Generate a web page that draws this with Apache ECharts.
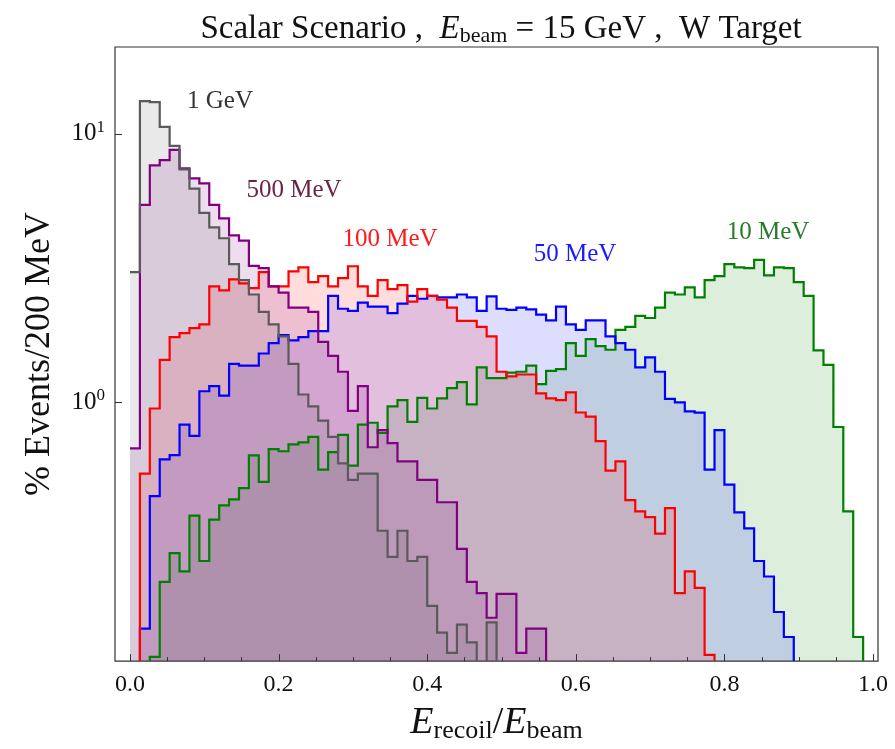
<!DOCTYPE html>
<html>
<head>
<meta charset="utf-8">
<title>Scalar Scenario, E_beam = 15 GeV, W Target</title>
<script src="https://cdn.jsdelivr.net/npm/echarts@6/dist/echarts.min.js"></script>
<style>
    html, body { margin: 0; padding: 0; background: #fff; }
    #chart { width: 895px; height: 749px; }
</style>
</head>
<body>
<div id="chart"></div>
<script>
// 200 MeV bins over a 15 GeV beam -> 75 bins of E_recoil/E_beam in [0, 1]
var binWidth = 0.2 / 15;

// % events per bin (0 = below the visible range)
var gev1 = [3.05, 13.2, 13.1, 10.6, 9.0, 7.36, 6.24, 5.07, 4.48, 4.08,
    3.27, 2.85, 2.52, 2.17, 1.95, 1.76, 1.39, 1.07, 0.966, 0.855,
    0.744, 0.593, 0.515, 0.543, 0.543, 0.333, 0.266, 0.333, 0.257, 0.266,
    0.175, 0.139, 0.117, 0.149, 0.128, 0, 0.152, 0, 0, 0,
    0, 0, 0, 0, 0, 0, 0, 0, 0, 0,
    0, 0, 0, 0, 0, 0, 0, 0, 0, 0,
    0, 0, 0, 0, 0, 0, 0, 0, 0, 0,
    0, 0, 0, 0, 0];
var mev500 = [0.674, 5.43, 7.62, 7.97, 8.7, 7.43, 6.81, 6.53, 5.43, 4.84,
    4.18, 4.0, 3.22, 3.16, 2.70, 2.56, 2.25, 2.25, 2.17, 1.68,
    1.49, 1.30, 0.93, 1.15, 0.681, 0.789, 0.705, 0.603, 0.603, 0.515,
    0.515, 0.425, 0.425, 0.285, 0.215, 0.195, 0.158, 0.194, 0.194, 0.117,
    0.144, 0.144, 0, 0, 0, 0, 0, 0, 0, 0,
    0, 0, 0, 0, 0, 0, 0, 0, 0, 0,
    0, 0, 0, 0, 0, 0, 0, 0, 0, 0,
    0, 0, 0, 0, 0];
var mev100 = [0, 0.543, 0.949, 1.44, 1.75, 1.81, 1.89, 1.95, 2.70, 2.61,
    2.87, 2.77, 2.66, 3.05, 2.70, 2.70, 3.07, 3.18, 2.80, 2.95,
    2.70, 2.90, 3.21, 2.70, 2.49, 2.85, 2.64, 2.73, 2.37, 2.64,
    2.49, 2.41, 2.25, 2.01, 2.01, 1.91, 1.76, 1.30, 1.25, 1.27,
    1.27, 1.08, 1.035, 1.02, 1.09, 0.917, 0.885, 0.718, 0.557, 0.603,
    0.433, 0.393, 0.374, 0.325, 0.404, 0.195, 0.235, 0.204, 0.115, 0,
    0, 0, 0, 0, 0, 0, 0, 0, 0, 0,
    0, 0, 0, 0, 0];
var mev50 = [0, 0.144, 0.448, 0.614, 0.636, 0.826, 0.751, 1.10, 1.15, 1.06,
    1.39, 1.37, 1.37, 1.52, 1.66, 1.78, 1.70, 1.75, 1.84, 1.84,
    2.49, 2.23, 2.19, 2.35, 2.27, 2.27, 2.15, 2.33, 2.49, 2.43,
    2.49, 2.46, 2.46, 2.52, 2.46, 2.19, 2.48, 2.23, 2.21, 2.25,
    2.22, 2.12, 2.02, 2.27, 1.95, 1.86, 2.02, 2.02, 1.76, 1.66,
    1.57, 1.35, 1.47, 1.30, 1.03, 1.0, 0.926, 0.916, 0.562, 0.789,
    0.494, 0.39, 0.34, 0.257, 0.225, 0.166, 0.134, 0, 0, 0,
    0, 0, 0, 0, 0];
var mev10 = [0, 0, 0.113, 0.215, 0.275, 0.235, 0.379, 0.257, 0.366, 0.414,
    0.436, 0.48, 0.635, 0.506, 0.67, 0.658, 0.698, 0.71, 0.744, 0.562,
    0.653, 0.757, 0.582, 0.826, 0.84, 0.77, 0.966, 1.02, 0.846, 1.04,
    0.949, 1.035, 1.13, 1.19, 0.983, 1.35, 1.23, 1.23, 1.29, 1.30,
    1.37, 1.17, 1.31, 1.33, 1.66, 1.49, 1.72, 1.62, 1.57, 1.86,
    1.91, 2.10, 2.06, 2.25, 2.56, 2.52, 2.68, 2.46, 2.85, 2.95,
    3.27, 3.18, 3.16, 3.39, 2.97, 3.18, 3.16, 2.80, 2.49, 1.56,
    1.38, 0.81, 0.393, 0.134, 0];

var seriesNames = ['10 MeV', '50 MeV', '100 MeV', '500 MeV', '1 GeV'];
var seriesValues = [mev10, mev50, mev100, mev500, gev1];
var lineColors = ['#008000', '#0000ff', '#ff0000', '#800080', '#5a5a5a'];
var fillColors = ['rgba(0,128,0,0.135)', 'rgba(0,0,255,0.135)', 'rgba(255,0,0,0.135)',
    'rgba(128,0,128,0.135)', 'rgba(90,90,90,0.135)'];

// frame ticks
var xMajorTicks = [0, 0.2, 0.4, 0.6, 0.8, 1.0];
var xMinorTicks = [0.05, 0.1, 0.15, 0.25, 0.3, 0.35, 0.45, 0.5, 0.55, 0.65, 0.7, 0.75, 0.85, 0.9, 0.95];
var yMajorTicks = [1, 10];

var xMin = -0.0202, xMax = 1.0067;
var yMin = 0.109, yMax = 21.0;
var serif = '"Liberation Serif", "DejaVu Serif", serif';

// step outline of a histogram, in pixels
function stepPoints(api, values, closed) {
    var floor = yMin / 3;   // below the frame, clipped away
    var pts = [];
    if (closed) pts.push(api.coord([0, floor]));
    for (var i = 0; i < values.length; i++) {
        var v = values[i] > 0 ? values[i] : floor;
        pts.push(api.coord([i * binWidth, v]));
        pts.push(api.coord([(i + 1) * binWidth, v]));
    }
    if (closed) pts.push(api.coord([values.length * binWidth, floor]));
    return pts;
}

function fillSeries(idx) {
    return {
        name: seriesNames[idx],
        type: 'custom',
        clip: true,
        silent: true,
        z: 2,
        data: [[0.5, 1]],
        encode: { x: 0, y: 1 },
        renderItem: function (params, api) {
            return {
                type: 'polygon',
                shape: { points: stepPoints(api, seriesValues[idx], true) },
                style: { fill: fillColors[idx], stroke: null }
            };
        }
    };
}

function lineSeries(idx) {
    return {
        name: seriesNames[idx],
        type: 'custom',
        clip: true,
        silent: true,
        z: 3,
        data: [[0.5, 1]],
        encode: { x: 0, y: 1 },
        renderItem: function (params, api) {
            return {
                type: 'polyline',
                shape: { points: stepPoints(api, seriesValues[idx], false) },
                style: { fill: null, stroke: lineColors[idx], lineWidth: 2.2, lineJoin: 'miter' }
            };
        }
    };
}

// inward ticks on the bottom (x) or left (y) frame edge
function tickSeries(values, onX, len) {
    return {
        type: 'custom',
        silent: true,
        clip: false,
        z: 4,
        data: values.map(function (t) { return onX ? [t, yMin] : [xMin, t]; }),
        encode: { x: 0, y: 1 },
        renderItem: function (params, api) {
            var p = api.coord([api.value(0), api.value(1)]);
            var shape = onX
                ? { x1: Math.round(p[0]) + 0.5, y1: p[1], x2: Math.round(p[0]) + 0.5, y2: p[1] - len }
                : { x1: p[0], y1: Math.round(p[1]) + 0.5, x2: p[0] + len, y2: Math.round(p[1]) + 0.5 };
            return { type: 'line', shape: shape, style: { stroke: '#333', lineWidth: 1 } };
        }
    };
}

var series = [];
seriesValues.forEach(function (v, i) { series.push(fillSeries(i)); });
seriesValues.forEach(function (v, i) { series.push(lineSeries(i)); });
series.push(tickSeries(xMajorTicks, true, 7));
series.push(tickSeries(xMinorTicks, true, 4));
series.push(tickSeries(yMajorTicks, false, 7));

var chart = echarts.init(document.getElementById('chart'), null, { renderer: 'canvas' });

var option = {
    backgroundColor: '#fff',
    animation: false,
    title: {
        text: 'Scalar Scenario ,  {i|E}{s|beam} = 15 GeV ,  W Target',
        left: 496,
        textAlign: 'center',
        top: 6,
        textStyle: {
            fontFamily: serif, fontSize: 33, fontWeight: 'normal', color: '#111', lineHeight: 36,
            rich: {
                i: { fontFamily: serif, fontStyle: 'italic', fontSize: 33, lineHeight: 36, color: '#111' },
                s: { fontFamily: serif, fontSize: 22, lineHeight: 22, verticalAlign: 'bottom', color: '#111' }
            }
        }
    },
    grid: {
        left: 115, right: 17, top: 47, bottom: 86,
        show: true, borderColor: '#333', borderWidth: 1.2, backgroundColor: 'transparent'
    },
    xAxis: {
        type: 'value',
        min: xMin, max: xMax,
        splitNumber: 5,
        splitLine: { show: false },
        axisLine: { show: false },
        axisTick: { show: false },
        axisLabel: {
            margin: 12,
            fontFamily: serif, fontSize: 24, color: '#111',
            formatter: function (v) {
                return Math.abs(v * 5 - Math.round(v * 5)) < 1e-6 ? v.toFixed(1) : '';
            }
        },
        name: '{i|E}{s|recoil}{n|/}{i|E}{s|beam}',
        nameLocation: 'middle',
        nameGap: 36,
        nameTextStyle: {
            fontFamily: serif, fontSize: 38, color: '#111', lineHeight: 42,
            rich: {
                i: { fontFamily: serif, fontStyle: 'italic', fontSize: 38, lineHeight: 42, color: '#111' },
                n: { fontFamily: serif, fontSize: 38, lineHeight: 42, color: '#111' },
                s: { fontFamily: serif, fontSize: 26, lineHeight: 26, verticalAlign: 'bottom', color: '#111' }
            }
        }
    },
    yAxis: {
        type: 'log',
        logBase: 10,
        min: yMin, max: yMax,
        splitLine: { show: false },
        axisLine: { show: false },
        axisTick: { show: false },
        axisLabel: {
            margin: 10,
            formatter: function (v) {
                var e = Math.round(Math.log10(v));
                if (Math.abs(v - Math.pow(10, e)) > 1e-6 * v) return '';
                return '{b|10}{p|' + e + '}';
            },
            rich: {
                b: { fontFamily: serif, fontSize: 25, lineHeight: 30, color: '#111' },
                p: { fontFamily: serif, fontSize: 17, lineHeight: 17, verticalAlign: 'top', color: '#111' }
            }
        },
        name: '% Events/200 MeV',
        nameLocation: 'middle',
        nameGap: 57,
        nameTextStyle: { fontFamily: serif, fontSize: 36, color: '#111' }
    },
    graphic: [
        { type: 'text', x: 220, y: 101, style: { text: '1 GeV', fill: '#333333', font: '25px ' + serif, align: 'center', verticalAlign: 'middle' } },
        { type: 'text', x: 294, y: 190, style: { text: '500 MeV', fill: '#6b2348', font: '25px ' + serif, align: 'center', verticalAlign: 'middle' } },
        { type: 'text', x: 390, y: 239, style: { text: '100 MeV', fill: '#ff1a1a', font: '25px ' + serif, align: 'center', verticalAlign: 'middle' } },
        { type: 'text', x: 575, y: 254, style: { text: '50 MeV', fill: '#1a1aff', font: '25px ' + serif, align: 'center', verticalAlign: 'middle' } },
        { type: 'text', x: 768, y: 232, style: { text: '10 MeV', fill: '#2a7a2a', font: '25px ' + serif, align: 'center', verticalAlign: 'middle' } }
    ],
    series: series
};

chart.setOption(option);
</script>
</body>
</html>
